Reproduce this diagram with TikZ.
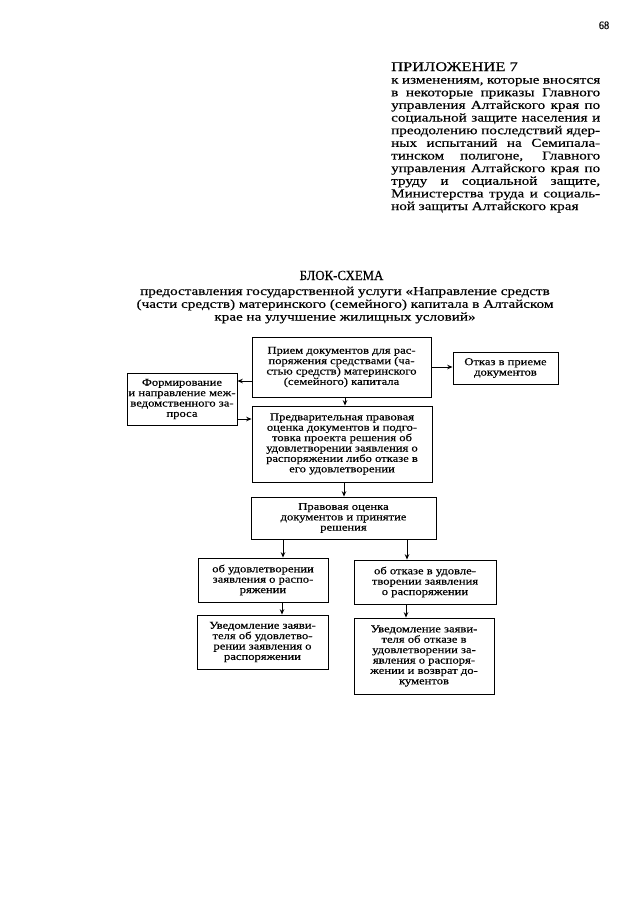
\documentclass[tikz,border=0pt]{standalone}
\usepackage{fontspec}
\setmainfont{Liberation Serif}
\newfontfamily\stfont[FakeStretch=1.25,FakeBold=0.35]{Liberation Serif}
\newfontfamily\bxfont[FakeStretch=1.2,FakeBold=0.35]{Liberation Serif}
\newfontfamily\ttlfont[FakeStretch=0.92,FakeBold=0.35]{Liberation Serif}
\usetikzlibrary{arrows.meta}
\newlength{\pxl}
\setlength{\pxl}{0.328125mm}
\begin{document}
\begin{tikzpicture}[x=0.328125mm,y=-0.328125mm,
  box/.style={draw, line width=0.85pt, inner sep=0pt, align=center,
    font=\bxfont\fontsize{9.8}{9.7}\selectfont},
  sz/.style 2 args={minimum width=#1*\pxl, minimum height=#2*\pxl},
  arr/.style={line width=0.85pt, -{Stealth[length=5pt,width=4.2pt]}},
  plain/.style={inner sep=0pt}]
\useasboundingbox[fill=white] (0,0) rectangle (640,905);

% page number
\node[plain, anchor=base] (pg) at (604,29) {\ttlfont\fontsize{10.5}{10.5}\selectfont 68};

% appendix header
\node[plain, anchor=base west] (app) at (391,71) {\parbox[t]{209\pxl}{\stfont\fontsize{11.3}{11.8}\selectfont
{\fontsize{12.3}{11.8}\selectfont ПРИЛОЖЕНИЕ 7}\\
\makebox[\linewidth][s]{к изменениям, которые вносятся}\\
\makebox[\linewidth][s]{в некоторые приказы Главного}\\
\makebox[\linewidth][s]{управления Алтайского края по}\\
\makebox[\linewidth][s]{социальной защите населения и}\\
\makebox[\linewidth][s]{преодолению последствий ядер-}\\
\makebox[\linewidth][s]{ных испытаний на Семипала-}\\
\makebox[\linewidth][s]{тинском полигоне, Главного}\\
\makebox[\linewidth][s]{управления Алтайского края по}\\
\makebox[\linewidth][s]{труду и социальной защите,}\\
\makebox[\linewidth][s]{Министерства труда и социаль-}\\
ной защиты Алтайского края}};

% title
\node[plain, anchor=base] (title) at (341.5,280) {\ttlfont\fontsize{13}{13}\selectfont БЛОК-СХЕМА};
\node[plain, anchor=base] (sub) at (345,295) {\parbox[t]{440\pxl}{\centering\stfont\fontsize{11.3}{12}\selectfont
предоставления государственной услуги «Направление средств\\
(части средств) материнского (семейного) капитала в Алтайском\\
крае на улучшение жилищных условий»}};

% boxes
\node[box, sz={179}{60}] (A) at (341.5,367) {Прием документов для рас-\\поряжения средствами (ча-\\стью средств) материнского\\(семейного) капитала};
\node[box, sz={105}{32}] (R) at (505.5,368) {Отказ в приеме\\документов};
\node[box, sz={110}{52}] (H) at (182,399) {Формирование\\и направление меж-\\ведомственного за-\\проса};
\node[box, sz={180}{76}] (B) at (342,444) {Предварительная правовая\\оценка документов и подго-\\товка проекта решения об\\удовлетворении заявления о\\распоряжении либо отказе в\\его удовлетворении};
\node[box, sz={185}{42}] (C) at (343.5,518) {Правовая оценка\\документов и принятие\\решения};
\node[box, sz={130}{44}] (D) at (263,580) {об удовлетворении\\заявления о распо-\\ряжении};
\node[box, sz={142}{44}] (E) at (425,582) {об отказе в удовле-\\творении заявления\\о распоряжении};
\node[box, sz={131}{54}] (F) at (262.5,642) {Уведомление заяви-\\теля об удовлетво-\\рении заявления о\\распоряжении};
\node[box, sz={140}{76}] (G) at (424,656) {Уведомление заяви-\\теля об отказе в\\удовлетворении за-\\явления о распоря-\\жении и возврат до-\\кументов};

% helper levels
\coordinate (yAH) at (0,381);
\coordinate (yHB) at (0,419);
\coordinate (xAB) at (345,0);
\coordinate (xBC) at (344,0);
\coordinate (xCD) at (283,0);
\coordinate (xCE) at (407,0);
\coordinate (xDF) at (282,0);
\coordinate (xEG) at (406,0);

% connectors
\draw[arr] (A.east) -- (R.west |- A.east);
\draw[arr] (A.west |- yAH) -- (H.east |- yAH);
\draw[arr] (H.east |- yHB) -- (B.west |- yHB);
\draw[arr] (A.south -| xAB) -- (B.north -| xAB);
\draw[arr] (B.south -| xBC) -- (C.north -| xBC);
\draw[arr] (C.south -| xCD) -- (D.north -| xCD);
\draw[arr] (C.south -| xCE) -- (E.north -| xCE);
\draw[arr] (D.south -| xDF) -- (F.north -| xDF);
\draw[arr] (E.south -| xEG) -- (G.north -| xEG);
\end{tikzpicture}
\end{document}
